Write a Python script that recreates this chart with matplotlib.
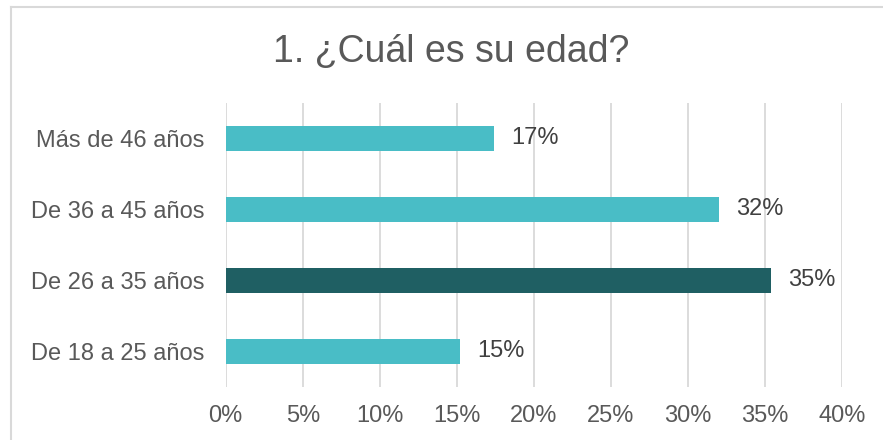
import matplotlib.pyplot as plt
from matplotlib.lines import Line2D
from matplotlib.ticker import PercentFormatter

plt.rcParams['font.family'] = ['Liberation Sans', 'DejaVu Sans']

# data, bottom to top
categories = ['De 18 a 25 años', 'De 26 a 35 años', 'De 36 a 45 años', 'Más de 46 años']
values = [0.152, 0.354, 0.320, 0.174]
colors = ['#49bdc6', '#1f5f63', '#49bdc6', '#49bdc6']
xticks = [0, 0.05, 0.10, 0.15, 0.20, 0.25, 0.30, 0.35, 0.40]

fig = plt.figure(figsize=(8.83, 4.40), dpi=100)
ax = fig.add_axes([0.2556, 0.1205, 0.698, 0.6455])

ypos = range(len(categories))
ax.barh(ypos, values, height=0.35, color=colors, zorder=3)

for y, v in zip(ypos, values):
    ax.annotate('{:.0f}%'.format(v * 100), (v, y), xytext=(17, 0),
                textcoords='offset pixels', va='center', ha='left',
                fontsize=17, color='#404040')

ax.set_xlim(0, 0.40)
ax.set_ylim(-0.5, 3.5)
ax.set_xticks(xticks)
ax.xaxis.set_major_formatter(PercentFormatter(1.0, decimals=0))
ax.set_yticks(list(ypos))
ax.set_yticklabels(categories)
ax.tick_params(axis='x', length=0, pad=13, labelsize=17, labelcolor='#595959')
ax.tick_params(axis='y', length=0, pad=15, labelsize=17, labelcolor='#595959')
ax.grid(axis='x', color='#d9d9d9', linewidth=1.3, zorder=0)
for s in ax.spines.values():
    s.set_visible(False)

fig.text(0.511, 0.881, '1. ¿Cuál es su edad?', ha='center', va='center',
         fontsize=27, color='#595959')

# chart border (only top and left edges are visible in the crop)
left, top = 11 / 883, 1 - 7.5 / 440
fig.add_artist(Line2D([left, 1.01], [top, top], transform=fig.transFigure,
                      color='#d9d9d9', linewidth=1.5))
fig.add_artist(Line2D([left, left], [-0.01, top], transform=fig.transFigure,
                      color='#d9d9d9', linewidth=1.5))

fig.savefig('out.png', dpi=100)
